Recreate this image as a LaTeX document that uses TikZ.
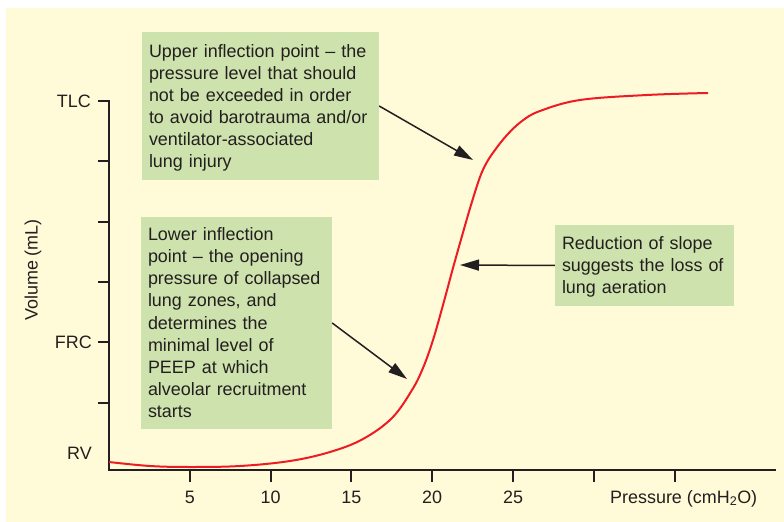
\documentclass[tikz,border=0pt]{standalone}
\usepackage{fontspec}
\setmainfont{Liberation Sans}
\usetikzlibrary{arrows.meta}
\definecolor{cream}{RGB}{255,250,215}
\definecolor{leaf}{RGB}{205,226,172}
\definecolor{ink}{RGB}{35,31,32}
\definecolor{pvred}{RGB}{237,28,36}

\begin{document}
\begin{tikzpicture}[x=1bp,y=-1bp,
    note/.style={fill=leaf,text=ink,align=left,inner xsep=7bp,inner ysep=0bp,
      font=\fontsize{18}{22}\selectfont,text height=13bp},
    pointer/.style={ink,line width=1.5bp,-{Triangle[length=19bp,width=11bp]}},
    lbl/.style={text=ink,inner sep=0bp,font=\fontsize{18}{22}\selectfont}]

    \useasboundingbox (0,0) rectangle (784,522);
    \fill [cream] (6,8) rectangle (784,522);

    \coordinate (O) at (109,470);
    \coordinate (T) at (109,101);
    \coordinate (E) at (776,470);

    %%%%%%%%%%%%%%%%%% axes
    \draw [ink,line width=2bp] (98,101) -- (T) -- (O) -- (E);
    \foreach \k in {1,...,5}
        \draw [ink,line width=2bp] (98,101+60.3*\k) -- ++(11,0);
    \foreach \k in {1,...,7}
        \draw [ink,line width=2bp] (109+80.8*\k,470) -- ++(0,12);
    \foreach \k/\p in {1/5,2/10,3/15,4/20,5/25}
        \node [lbl,anchor=base] (p\k) at (109+80.8*\k,503) {\p};

    \node [lbl,anchor=east] (tlc) at (91,101) {TLC};
    \node [lbl,anchor=east] (frc) at (92,342) {FRC};
    \node [lbl,anchor=east] (rv) at (92,453) {RV};
    \node [lbl,rotate=90] (vol) at (33,270) {Volume (mL)};
    \node [lbl,anchor=base west] (pres) at (610,503) {Pressure (cmH\textsubscript{2}O)};

    %%%%%%%%%%%%%%%%%% P-V curve
    \draw [pvred,line width=2bp] plot [smooth,tension=0.6] coordinates {
        (109,462) (150,466) (190,467) (240,466) (290,461) (330,452) (363,439)
        (392,418) (412,390) (423,368) (433,340) (443,305) (453,268) (462,236)
        (471,205) (480,177) (487,162) (495,150) (507,135) (522,121) (540,111)
        (580,100) (647,95) (708,93)};

    \coordinate (UIP) at (473,160);
    \coordinate (LIP) at (407,379);
    \coordinate (S) at (460,265);

    %%%%%%%%%%%%%%%%%% notes
    \node [note,text width=223bp,minimum height=148bp,text depth=110bp] (upper) at (260.5,106)
        {Upper inflection point -- the\\ pressure level that should\\ not be exceeded in order\\
         to avoid barotrauma and/or\\ ventilator-associated\\ lung injury};
    \node [note,text width=177bp,minimum height=212bp,text depth=178bp,
        font=\fontsize{18}{22.25}\selectfont] (lower) at (236.5,323)
        {Lower inflection\\ point -- the opening\\ pressure of collapsed\\ lung zones, and\\
         determines the\\ minimal level of\\ PEEP at which\\ alveolar recruitment\\ starts};
    \node [note,text width=165bp,minimum height=81bp,text depth=44bp] (slope) at (644.5,265.5)
        {Reduction of slope\\ suggests the loss of\\ lung aeration};

    \draw [pointer] (upper.east) -- (UIP);
    \draw [pointer] (lower.east) -- (LIP);
    \draw [pointer] (slope.west) -- (S);

\end{tikzpicture}
\end{document}
